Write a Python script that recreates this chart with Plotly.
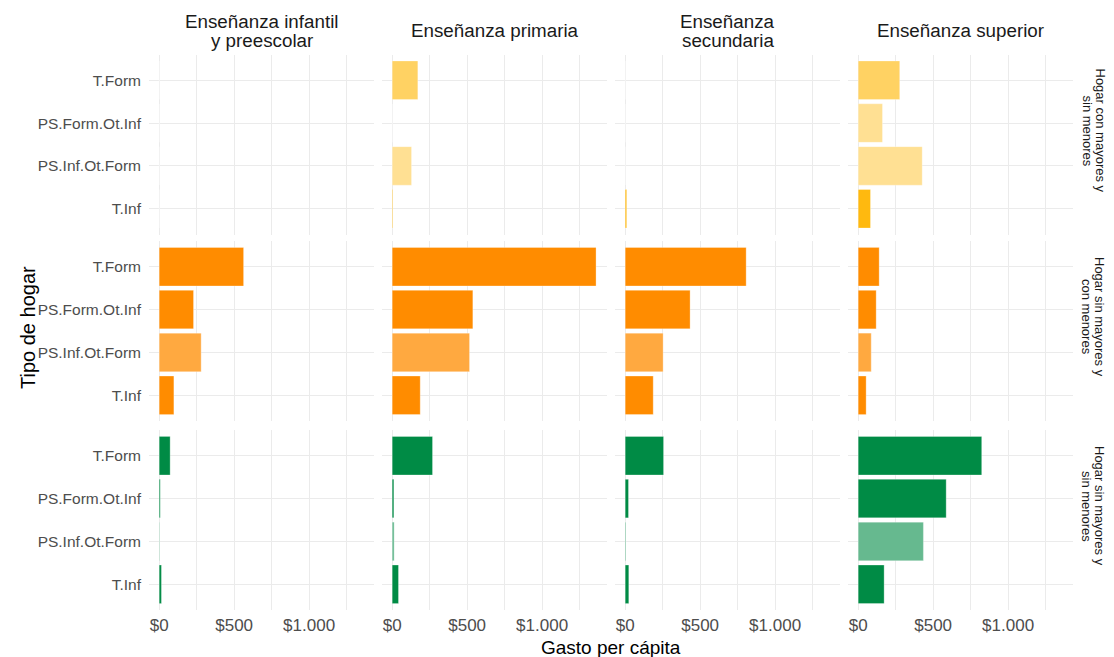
import plotly.graph_objects as go

# ---------------- data ----------------
niveles = ["Enseñanza infantil<br>y preescolar", "Enseñanza primaria",
           "Enseñanza<br>secundaria", "Enseñanza superior"]
hogares = ["Hogar con mayores y<br>sin menores",
           "Hogar sin mayores y<br>con menores",
           "Hogar sin mayores y<br>sin menores"]
tipos = ["T.Form", "PS.Form.Ot.Inf", "PS.Inf.Ot.Form", "T.Inf"]
x_ticks = [0, 500, 1000]
x_tick_labels = ["$0", "$500", "$1.000"]

# gasto per cápita por nivel (filas) y tipo de hogar (orden de `tipos`)
gasto_con_mayores_sin_menores = [
    [0, 0, 0, 0],
    [171, 0, 129, 4],
    [0, 0, 0, 10],
    [277, 162, 427, 82],
]
gasto_sin_mayores_con_menores = [
    [563, 229, 280, 98],
    [1360, 538, 516, 187],
    [807, 433, 253, 187],
    [140, 120, 87, 53],
]
gasto_sin_mayores_sin_menores = [
    [73, 7, 3, 15],
    [269, 11, 13, 42],
    [256, 22, 5, 24],
    [824, 587, 435, 173],
]
gastos = [gasto_con_mayores_sin_menores, gasto_sin_mayores_con_menores,
          gasto_sin_mayores_sin_menores]

# ---------------- styles ----------------
row_base = [(255, 185, 15), (255, 140, 0), (0, 139, 69)]
row_alpha = [[0.65, 0.45, 0.45, 1.0], [1.0, 1.0, 0.75, 1.0], [1.0, 1.0, 0.6, 1.0]]

W, H = 1114, 657
GRID = "#EBEBEB"
FONT = "Liberation Sans, Arial, sans-serif"
col_left = [149 + 233 * c for c in range(4)]
col_w = 225
row_top = [54.5, 241, 430]
row_h = 180


def px_x(p):
    return p / W


def px_y(p):
    return 1 - p / H


def blend(rgb, a):
    r, g, b = rgb
    return "rgb(%d,%d,%d)" % (round(a * r + (1 - a) * 255),
                              round(a * g + (1 - a) * 255),
                              round(a * b + (1 - a) * 255))


fig = go.Figure()
layout = {}
for r in range(3):
    colors = [blend(row_base[r], a) for a in row_alpha[r]]
    for c in range(4):
        k = r * 4 + c + 1
        xa = "x" if k == 1 else "x%d" % k
        ya = "y" if k == 1 else "y%d" % k
        fig.add_trace(go.Bar(
            y=tipos, x=gastos[r][c], orientation="h", width=0.9,
            marker=dict(color=colors, line=dict(width=0.6, color="rgba(255,255,255,0.5)")),
            xaxis=xa, yaxis=ya, showlegend=False,
        ))
        xkey = "xaxis" if k == 1 else "xaxis%d" % k
        ykey = "yaxis" if k == 1 else "yaxis%d" % k
        layout[xkey] = dict(
            domain=[px_x(col_left[c]), px_x(col_left[c] + col_w)],
            anchor=ya, range=[-68, 1433], automargin=False,
            tickvals=x_ticks, ticktext=x_tick_labels,
            showticklabels=(r == 2), ticks="", ticklabelstandoff=3,
            tickfont=dict(size=17, color="#4D4D4D", family=FONT),
            showgrid=True, gridcolor=GRID, gridwidth=1,
            zeroline=True, zerolinecolor=GRID, zerolinewidth=1,
            minor=dict(tickvals=[250, 750, 1250], showgrid=True,
                       gridcolor=GRID, gridwidth=1),
            showline=False, fixedrange=True,
        )
        layout[ykey] = dict(
            domain=[px_y(row_top[r] + row_h), px_y(row_top[r])],
            anchor=xa, type="category", automargin=False,
            categoryorder="array", categoryarray=tipos[::-1],
            range=[-0.6, 3.6],
            showticklabels=(c == 0), ticks="", ticklabelstandoff=7,
            tickfont=dict(size=15.5, color="#4D4D4D", family=FONT),
            showgrid=True, gridcolor=GRID, gridwidth=1,
            showline=False, zeroline=False, fixedrange=True,
        )

annotations = []
# column strip titles
for c, lab in enumerate(niveles):
    lines = lab.split("<br>")
    cx = px_x(col_left[c] + col_w / 2)
    ys = [30] if len(lines) == 1 else [21, 40]
    for line, yy in zip(lines, ys):
        annotations.append(dict(text=line, x=cx, y=px_y(yy), xref="paper", yref="paper",
                                xanchor="center", yanchor="middle", showarrow=False,
                                font=dict(size=18.8, color="#1A1A1A", family=FONT)))
# row strip titles (right)
for r, lab in enumerate(hogares):
    lines = lab.split("<br>")
    cy = px_y(row_top[r] + row_h / 2 - 14)
    xs = [1100, 1087]
    for line, xx in zip(lines, xs):
        annotations.append(dict(text=line, x=px_x(xx), y=cy, xref="paper", yref="paper",
                                xanchor="center", yanchor="middle", showarrow=False,
                                textangle=90,
                                font=dict(size=13, color="#1A1A1A", family=FONT)))
# axis titles
annotations.append(dict(text="Tipo de hogar", x=px_x(28), y=px_y(328), xref="paper", yref="paper",
                        xanchor="center", yanchor="middle", showarrow=False, textangle=-90,
                        font=dict(size=20, color="#000000", family=FONT)))
annotations.append(dict(text="Gasto per cápita", x=px_x(611), y=px_y(647.5), xref="paper", yref="paper",
                        xanchor="center", yanchor="middle", showarrow=False,
                        font=dict(size=19, color="#000000", family=FONT)))

fig.update_layout(
    width=W, height=H,
    margin=dict(l=0, r=0, t=0, b=0, pad=0, autoexpand=False),
    paper_bgcolor="white", plot_bgcolor="white",
    bargap=0.1, annotations=annotations,
    font=dict(family=FONT),
    **layout,
)
fig.write_html("out.html", config={"displayModeBar": False},
               post_script="document.body.style.margin='0px';")
